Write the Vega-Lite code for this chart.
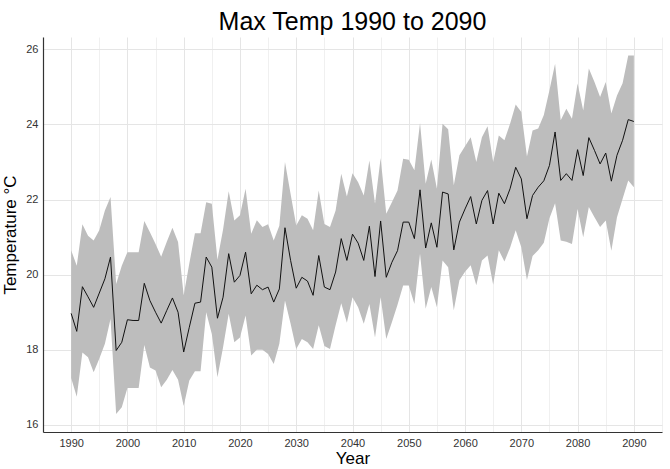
{
  "$schema": "https://vega.github.io/schema/vega-lite/v6.json",
  "autosize": {"type": "none"},
  "width": 619,
  "height": 395,
  "padding": {"left": 43, "top": 37, "right": 8, "bottom": 37},
  "background": "white",
  "title": {
    "text": "Max Temp 1990 to 2090",
    "font": "Liberation Sans",
    "fontSize": 25,
    "fontWeight": "normal",
    "color": "#000000",
    "anchor": "middle",
    "offset": 2
  },
  "config": {
    "view": {"stroke": null},
    "axis": {
      "labelFont": "Liberation Sans",
      "labelFontSize": 11,
      "labelColor": "#333333",
      "titleFont": "Liberation Sans",
      "titleFontSize": 17,
      "titleFontWeight": "normal",
      "titleColor": "#000000",
      "ticks": false,
      "domainColor": "#333333",
      "domainWidth": 1.2
    }
  },
  "data": {
    "values": [
      {"year": 1990, "mean": 18.97, "lo": 17.25, "hi": 20.65},
      {"year": 1991, "mean": 18.49, "lo": 16.75, "hi": 20.24},
      {"year": 1992, "mean": 19.68, "lo": 17.93, "hi": 21.34},
      {"year": 1993, "mean": 19.41, "lo": 17.8, "hi": 21.04},
      {"year": 1994, "mean": 19.13, "lo": 17.4, "hi": 20.91},
      {"year": 1995, "mean": 19.51, "lo": 17.76, "hi": 21.18},
      {"year": 1996, "mean": 19.89, "lo": 18.16, "hi": 21.71},
      {"year": 1997, "mean": 20.47, "lo": 18.82, "hi": 22.07},
      {"year": 1998, "mean": 17.98, "lo": 16.29, "hi": 19.75},
      {"year": 1999, "mean": 18.2, "lo": 16.47, "hi": 20.24},
      {"year": 2000, "mean": 18.8, "lo": 16.98, "hi": 20.6},
      {"year": 2001, "mean": 18.78, "lo": 16.98, "hi": 20.6},
      {"year": 2002, "mean": 18.78, "lo": 16.98, "hi": 20.6},
      {"year": 2003, "mean": 19.77, "lo": 18.13, "hi": 21.43},
      {"year": 2004, "mean": 19.31, "lo": 17.53, "hi": 21.13},
      {"year": 2005, "mean": 19.0, "lo": 17.45, "hi": 20.82},
      {"year": 2006, "mean": 18.71, "lo": 17.0, "hi": 20.48},
      {"year": 2007, "mean": 19.05, "lo": 17.2, "hi": 20.88},
      {"year": 2008, "mean": 19.38, "lo": 17.46, "hi": 21.25},
      {"year": 2009, "mean": 19.0, "lo": 17.2, "hi": 20.87},
      {"year": 2010, "mean": 17.94, "lo": 16.5, "hi": 19.45},
      {"year": 2011, "mean": 18.6, "lo": 17.18, "hi": 20.3},
      {"year": 2012, "mean": 19.24, "lo": 17.43, "hi": 21.1},
      {"year": 2013, "mean": 19.27, "lo": 17.43, "hi": 21.1},
      {"year": 2014, "mean": 20.47, "lo": 19.0, "hi": 21.93},
      {"year": 2015, "mean": 20.2, "lo": 18.42, "hi": 21.89},
      {"year": 2016, "mean": 18.84, "lo": 17.27, "hi": 20.4},
      {"year": 2017, "mean": 19.4, "lo": 18.07, "hi": 21.2},
      {"year": 2018, "mean": 20.56, "lo": 18.96, "hi": 22.22},
      {"year": 2019, "mean": 19.8, "lo": 18.2, "hi": 21.44},
      {"year": 2020, "mean": 19.98, "lo": 18.33, "hi": 21.58},
      {"year": 2021, "mean": 20.6, "lo": 18.91, "hi": 22.29},
      {"year": 2022, "mean": 19.49, "lo": 17.85, "hi": 21.09},
      {"year": 2023, "mean": 19.72, "lo": 18.0, "hi": 21.45},
      {"year": 2024, "mean": 19.6, "lo": 18.0, "hi": 21.27},
      {"year": 2025, "mean": 19.67, "lo": 17.89, "hi": 21.34},
      {"year": 2026, "mean": 19.27, "lo": 17.62, "hi": 20.91},
      {"year": 2027, "mean": 19.62, "lo": 18.16, "hi": 21.3},
      {"year": 2028, "mean": 21.25, "lo": 19.31, "hi": 23.0},
      {"year": 2029, "mean": 20.38, "lo": 18.69, "hi": 22.15},
      {"year": 2030, "mean": 19.64, "lo": 18.02, "hi": 21.31},
      {"year": 2031, "mean": 19.93, "lo": 18.29, "hi": 21.58},
      {"year": 2032, "mean": 19.83, "lo": 18.2, "hi": 21.49},
      {"year": 2033, "mean": 19.45, "lo": 18.02, "hi": 21.18},
      {"year": 2034, "mean": 20.51, "lo": 18.65, "hi": 22.24},
      {"year": 2035, "mean": 19.67, "lo": 18.1, "hi": 21.35},
      {"year": 2036, "mean": 19.6, "lo": 18.02, "hi": 21.27},
      {"year": 2037, "mean": 20.07, "lo": 18.65, "hi": 21.71},
      {"year": 2038, "mean": 20.96, "lo": 19.24, "hi": 22.69},
      {"year": 2039, "mean": 20.38, "lo": 18.72, "hi": 22.08},
      {"year": 2040, "mean": 21.08, "lo": 19.4, "hi": 22.7},
      {"year": 2041, "mean": 20.84, "lo": 19.13, "hi": 22.46},
      {"year": 2042, "mean": 20.38, "lo": 18.69, "hi": 22.11},
      {"year": 2043, "mean": 21.29, "lo": 19.22, "hi": 23.04},
      {"year": 2044, "mean": 19.95, "lo": 18.33, "hi": 21.89},
      {"year": 2045, "mean": 21.43, "lo": 19.4, "hi": 23.11},
      {"year": 2046, "mean": 19.93, "lo": 18.29, "hi": 21.62},
      {"year": 2047, "mean": 20.33, "lo": 18.73, "hi": 21.93},
      {"year": 2048, "mean": 20.64, "lo": 19.2, "hi": 22.24},
      {"year": 2049, "mean": 21.4, "lo": 19.71, "hi": 23.09},
      {"year": 2050, "mean": 21.4, "lo": 19.71, "hi": 23.06},
      {"year": 2051, "mean": 20.96, "lo": 19.22, "hi": 22.78},
      {"year": 2052, "mean": 22.26, "lo": 20.56, "hi": 24.04},
      {"year": 2053, "mean": 20.71, "lo": 19.09, "hi": 22.42},
      {"year": 2054, "mean": 21.38, "lo": 19.67, "hi": 23.07},
      {"year": 2055, "mean": 20.73, "lo": 19.13, "hi": 22.29},
      {"year": 2056, "mean": 22.2, "lo": 20.38, "hi": 24.02},
      {"year": 2057, "mean": 22.15, "lo": 20.2, "hi": 23.87},
      {"year": 2058, "mean": 20.66, "lo": 19.05, "hi": 22.38},
      {"year": 2059, "mean": 21.4, "lo": 19.85, "hi": 23.18},
      {"year": 2060, "mean": 21.75, "lo": 20.08, "hi": 23.42},
      {"year": 2061, "mean": 22.08, "lo": 20.25, "hi": 23.66},
      {"year": 2062, "mean": 21.35, "lo": 19.72, "hi": 23.0},
      {"year": 2063, "mean": 21.98, "lo": 20.38, "hi": 23.66},
      {"year": 2064, "mean": 22.24, "lo": 20.51, "hi": 23.95},
      {"year": 2065, "mean": 21.35, "lo": 19.73, "hi": 23.0},
      {"year": 2066, "mean": 22.17, "lo": 20.65, "hi": 23.71},
      {"year": 2067, "mean": 21.89, "lo": 20.35, "hi": 23.58},
      {"year": 2068, "mean": 22.29, "lo": 20.72, "hi": 24.02},
      {"year": 2069, "mean": 22.86, "lo": 21.18, "hi": 24.53},
      {"year": 2070, "mean": 22.55, "lo": 20.73, "hi": 24.33},
      {"year": 2071, "mean": 21.49, "lo": 19.86, "hi": 23.15},
      {"year": 2072, "mean": 22.11, "lo": 20.5, "hi": 23.84},
      {"year": 2073, "mean": 22.33, "lo": 20.65, "hi": 23.89},
      {"year": 2074, "mean": 22.5, "lo": 20.85, "hi": 24.25},
      {"year": 2075, "mean": 22.91, "lo": 21.5, "hi": 24.91},
      {"year": 2076, "mean": 23.8, "lo": 21.9, "hi": 25.62},
      {"year": 2077, "mean": 22.51, "lo": 20.91, "hi": 24.11},
      {"year": 2078, "mean": 22.69, "lo": 20.88, "hi": 24.42},
      {"year": 2079, "mean": 22.51, "lo": 20.82, "hi": 24.15},
      {"year": 2080, "mean": 23.33, "lo": 21.75, "hi": 25.09},
      {"year": 2081, "mean": 22.64, "lo": 21.0, "hi": 24.37},
      {"year": 2082, "mean": 23.65, "lo": 21.8, "hi": 25.49},
      {"year": 2083, "mean": 23.31, "lo": 21.53, "hi": 25.13},
      {"year": 2084, "mean": 22.95, "lo": 21.27, "hi": 24.73},
      {"year": 2085, "mean": 23.24, "lo": 21.44, "hi": 25.13},
      {"year": 2086, "mean": 22.49, "lo": 20.64, "hi": 24.29},
      {"year": 2087, "mean": 23.18, "lo": 21.53, "hi": 24.77},
      {"year": 2088, "mean": 23.58, "lo": 22.02, "hi": 25.1},
      {"year": 2089, "mean": 24.13, "lo": 22.51, "hi": 25.84},
      {"year": 2090, "mean": 24.08, "lo": 22.33, "hi": 25.84}
    ]
  },
  "encoding": {
    "x": {
      "field": "year",
      "type": "quantitative",
      "title": "Year",
      "scale": {"domain": [1985, 2095], "nice": false, "zero": false},
      "axis": {
        "values": [1985, 1990, 1995, 2000, 2005, 2010, 2015, 2020, 2025, 2030, 2035, 2040, 2045, 2050, 2055, 2060, 2065, 2070, 2075, 2080, 2085, 2090, 2095],
        "format": "d",
        "labelExpr": "datum.value % 10 === 0 ? datum.label : ''",
        "labelPadding": 5,
        "titlePadding": 2,
        "gridColor": {"condition": {"test": "datum.value % 10 === 0", "value": "#e5e5e5"}, "value": "#f0f0f0"},
        "gridWidth": 1
      }
    }
  },
  "layer": [
    {
      "mark": {"type": "area", "color": "#bdbdbd", "opacity": 1},
      "encoding": {
        "y": {
          "field": "lo",
          "type": "quantitative",
          "title": "Temperature °C",
          "scale": {"domain": [15.81, 26.33], "nice": false, "zero": false},
          "axis": {
            "values": [16, 17, 18, 19, 20, 21, 22, 23, 24, 25, 26],
            "labelExpr": "datum.value % 2 === 0 ? datum.label : ''",
            "labelPadding": 5,
            "titlePadding": 6,
            "gridColor": {"condition": {"test": "datum.value % 2 === 0", "value": "#e5e5e5"}, "value": "#f0f0f0"},
            "gridWidth": 1
          }
        },
        "y2": {"field": "hi"}
      }
    },
    {
      "mark": {"type": "line", "color": "#111111", "strokeWidth": 1},
      "encoding": {
        "y": {"field": "mean", "type": "quantitative"}
      }
    }
  ]
}
